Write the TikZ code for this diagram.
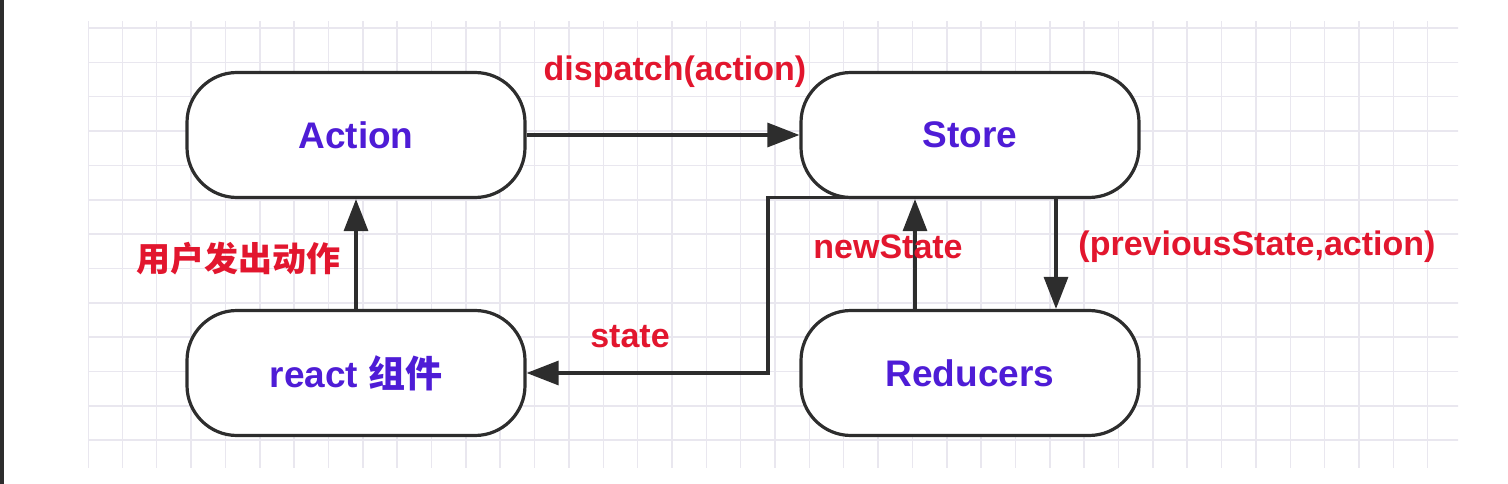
\documentclass[tikz,border=0pt]{standalone}
\usepackage{fontspec}
\setmainfont{Liberation Sans}
\newfontfamily\cjk{Noto Sans CJK SC}
\usetikzlibrary{positioning,arrows.meta,backgrounds}
\definecolor{txtblue}{RGB}{78,28,214}
\definecolor{lblred}{RGB}{226,22,46}
\definecolor{linegray}{RGB}{45,45,45}
\definecolor{gridgray}{RGB}{233,231,239}

\begin{document}
\begin{tikzpicture}[x=1pt,y=1pt]
		\tikzstyle{box}=[draw=linegray, line width=3.2pt, fill=white, rounded corners=50pt,
			minimum width=338pt, minimum height=125pt, text=txtblue,
			font=\fontsize{37}{40}\selectfont\bfseries]
		\tikzstyle{lbl}=[text=lblred, inner sep=0pt, font=\fontsize{34}{38}\selectfont\bfseries]
		\tikzstyle{conn}=[draw=linegray, line width=3.2pt, -{Triangle[length=32pt,width=24pt]}]
		\useasboundingbox (0,0) rectangle (1508,-484);
		\fill [linegray] (0,0) rectangle (3.5,-484);
		\node [box] (act) at (356,-135) {Action};
		\node [box] (store) at (970,-135) {Store};
		\node [box] (react) at (356,-373) {react {\cjk 组件}};
		\node [box] (red) at (970,-373) {Reducers};
		\begin{scope}[on background layer]
		\begin{scope}
		\clip (88,-22) rectangle (1458,-467);
		\draw [gridgray, line width=1.5pt, shift={(88,-28)}] (-34.35,34.35) grid[step=34.35] (1400,-460);
		\end{scope}
		\draw [conn] (act) -- (store);
		\draw [conn] (react) -- (act);
		\draw [conn] ([xshift=-55pt]red.north) -- ([xshift=-55pt]store.south);
		\draw [conn] ([xshift=86pt]store.south) -- ([xshift=86pt]red.north);
		\draw [conn] ([xshift=-120pt,yshift=1.6pt]store.south) -- ++(-82pt,0) |- (react.east);
		\end{scope}
		\node [lbl] (ldispatch) at (675,-72) {dispatch(action)};
		\node [lbl] (luser) at (238,-259) {\cjk 用户发出动作};
		\node [lbl] (lstate) at (630,-337) {state};
		\node [lbl] (lnew) at (888,-247) {newState};
		\node [lbl] (lprev) at (1257,-247) {(previousState,action)};
\end{tikzpicture}
\end{document}
